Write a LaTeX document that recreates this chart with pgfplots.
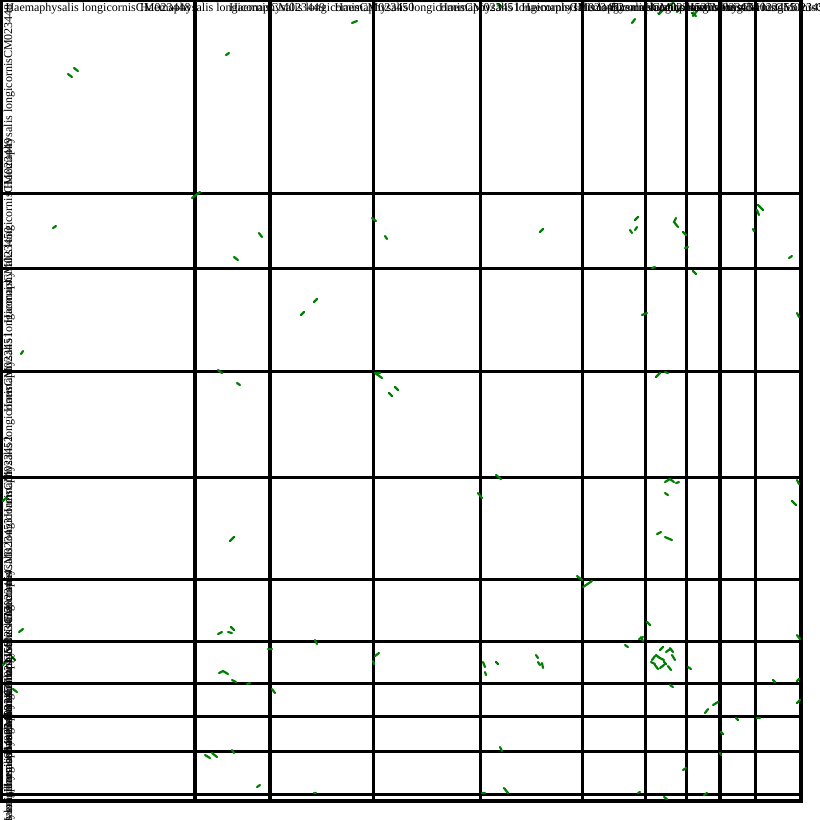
\documentclass[border=0pt]{standalone}
\usepackage{pgfplots}
\pgfplotsset{compat=1.18}
\usepackage{fontspec}
\setmainfont{Liberation Serif}
\definecolor{dotgreen}{rgb}{0,0.5,0}
\begin{document}
\begin{tikzpicture}
\begin{axis}[
  at={(1bp,0bp)}, anchor=north west,
  scale only axis, width=800bp, height=801bp,
  xmin=1, xmax=801, ymin=0, ymax=801, y dir=reverse,
  xtick={195,270,373.5,480.7,582.7,645.3,686.7,720,755.3},
  ytick={193.5,268.5,371.7,477.5,579.5,641.7,683.5,716.3,751.7,794.5},
  xticklabels={}, yticklabels={},
  major tick length=0pt,
  grid=major,
  major grid style={black, line width=3.1bp},
  axis line style={black, line width=3.1bp},
  clip=false,
  unbounded coords=jump,
]
\addplot[dotgreen, line width=2.2bp, line cap=round] table {
x y
68 74
72 77
nan nan
74 68
78 71
nan nan
226 55
229 53
nan nan
352 23
357 21
nan nan
192 198
200 192
nan nan
53 228
56 226
nan nan
259 233
262 237
nan nan
234 257
238 260
nan nan
372 218
376 221
nan nan
385 236
387 239
nan nan
632 23
635 19
nan nan
659 14
663 10
nan nan
668 6
673 3
nan nan
677 12
680 8
nan nan
692 13
696 16
nan nan
693 16
697 11
nan nan
498 4
502 7
nan nan
540 232
543 229
nan nan
635 220
638 217
nan nan
630 230
632 233
nan nan
635 230
637 227
nan nan
676 218
674 222
678 227
nan nan
683 232
686 235
nan nan
685 248
688 247
nan nan
758 205
763 210
nan nan
757 210
759 215
nan nan
753 229
754 231
nan nan
789 258
792 256
nan nan
652 268
655 267
nan nan
693 271
696 274
nan nan
21 354
23 351
nan nan
301 315
304 312
nan nan
314 302
317 299
nan nan
218 370
222 373
nan nan
237 383
240 385
nan nan
375 373
382 378
nan nan
375 373
380 373
nan nan
389 393
392 396
nan nan
395 387
398 390
nan nan
3 501
7 497
nan nan
230 541
234 537
nan nan
642 315
647 313
nan nan
797 313
799 317
nan nan
656 377
660 373
nan nan
665 372
668 373
nan nan
496 475
501 479
nan nan
478 493
482 498
nan nan
665 482
670 479
674 482
nan nan
676 483
679 482
nan nan
665 493
668 495
nan nan
797 480
799 484
nan nan
792 501
796 505
nan nan
657 534
661 532
nan nan
665 537
672 540
nan nan
19 632
23 629
nan nan
218 634
222 632
nan nan
228 632
232 633
nan nan
231 627
234 630
nan nan
315 640
317 644
nan nan
268 649
272 649
nan nan
375 656
379 653
nan nan
373 661
374 664
nan nan
3 665
7 660
nan nan
12 657
15 660
nan nan
219 673
223 671
228 674
nan nan
232 680
236 682
nan nan
247 684
250 683
nan nan
272 689
275 693
nan nan
13 689
17 692
nan nan
205 755
210 758
nan nan
212 753
217 757
nan nan
232 750
234 753
nan nan
257 787
260 785
nan nan
314 793
316 793
nan nan
577 576
582 580
nan nan
583 587
592 581
nan nan
647 622
650 625
nan nan
639 639
643 637
nan nan
641 637
643 641
nan nan
625 645
628 647
nan nan
797 635
800 639
nan nan
483 662
485 667
nan nan
485 672
486 675
nan nan
496 662
498 664
nan nan
536 655
538 658
nan nan
538 662
540 665
nan nan
542 663
543 668
nan nan
660 650
663 647
nan nan
666 652
670 649
nan nan
652 660
655 656
nan nan
656 655
660 658
nan nan
658 657
664 660
nan nan
672 655
675 660
nan nan
670 648
673 652
nan nan
655 665
658 669
nan nan
660 668
664 665
nan nan
668 666
671 670
nan nan
651 662
655 664
nan nan
664 662
666 664
nan nan
688 667
691 669
nan nan
670 685
673 687
nan nan
773 680
775 682
nan nan
797 681
799 679
nan nan
797 703
800 700
nan nan
705 713
708 709
nan nan
713 705
718 702
nan nan
736 718
738 720
nan nan
757 718
760 718
nan nan
721 732
723 734
nan nan
720 753
721 755
nan nan
500 747
502 751
nan nan
683 770
686 768
nan nan
504 788
508 793
nan nan
482 793
485 793
nan nan
638 793
640 792
nan nan
664 797
667 799
nan nan
704 795
707 793
};
% top labels (centred on each column)
\foreach \cx/\nm in {98/48,232.5/49,321.75/50,427.1/51,531.7/52,614/53,666/54,703.35/55,737.65/56,778.15/57}{
  \edef\temp{\noexpand\node[anchor=base, inner sep=0pt, font=\noexpand\fontsize{12bp}{14bp}\noexpand\selectfont] at (axis cs:\cx,11.5) {Haemaphysalis longicornisCM0234\nm};}
  \temp
}
% left labels (rotated, centred on each row)
\foreach \cy/\nm in {96.75/48,231/49,320.1/50,424.6/51,528.5/52,610.6/53,662.6/54,699.9/55,734/56,773.1/57,797.75/58}{
  \edef\temp{\noexpand\node[anchor=base, rotate=90, inner sep=0pt, font=\noexpand\fontsize{12bp}{14bp}\noexpand\selectfont] at (axis cs:12,\cy) {Haemaphysalis longicornisCM0234\nm};}
  \temp
}
\end{axis}
\pgfresetboundingbox
\path[use as bounding box] (0bp,0bp) rectangle (820bp,-820bp);
\end{tikzpicture}
\end{document}
